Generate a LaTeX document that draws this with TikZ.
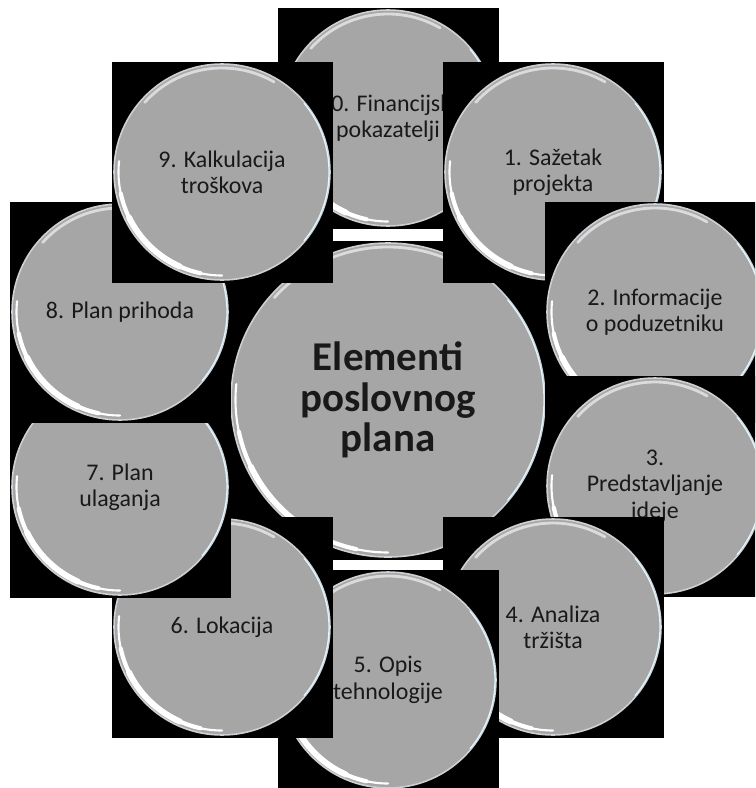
\documentclass[tikz,border=0pt]{standalone}
\usepackage{fontspec}
\setmainfont{Carlito}
\definecolor{ballgray}{RGB}{166,166,166}
\definecolor{rimgray}{RGB}{205,209,213}
\newcommand\ballfont{\fontsize{13.6}{15}\selectfont}
\newcommand\titlefont{\fontsize{23.3}{23}\selectfont\bfseries}

\begin{document}
\begin{tikzpicture}[x=0.02cm,y=-0.02cm,
  tile/.style={fill=black},
  ball/.style={fill=ballgray,draw=rimgray,line width=0.9pt},
  shine/.style={draw=white,line cap=round},
  lbl/.style={align=center,inner sep=0pt,text=black!90}]

\useasboundingbox (0,0) rectangle (755,788);
\clip (0,0) rectangle (755,788);

% the centre first, then 10 and 1..9, each one over the one before
\foreach \x/\y/\r/\n/\f/\t in {
  388/400/157/centre/\titlefont/{Elementi\\poslovnog\\plana},
  388/118/108/e10/\ballfont/{10. Financijski\\pokazatelji},
  553/172/108/e1/\ballfont/{1. Sažetak\\projekta},
  655/312/108/e2/\ballfont/{2. Informacije\\o poduzetniku},
  655/486/108/e3/\ballfont/{3.\\Predstavljanje\\ideje},
  553/627/108/e4/\ballfont/{4. Analiza\\tržišta},
  388/680/108/e5/\ballfont/{5. Opis\\tehnologije},
  222/627/108/e6/\ballfont/{6. Lokacija},
  120/487/108/e7/\ballfont/{7. Plan\\ulaganja},
  120/312/108/e8/\ballfont/{8. Plan prihoda},
  222/172/108/e9/\ballfont/{9. Kalkulacija\\troškova}}
{
  % black square behind the ball
  \fill[tile] (\x-\r-2.5,\y-\r-2.5) rectangle (\x+\r+2.5,\y+\r+2.5);
  \draw[ball] (\x,\y) circle (\r);
  % gloss: crescent lower left, soft arc on top
  \draw[shine,line width=1.2pt] (\x,\y) ++(90:\r-4.5) arc[start angle=90,end angle=186,radius=\r-4.5];
  \draw[shine,line width=2.4pt] (\x,\y) ++(102:\r-4.5) arc[start angle=102,end angle=168,radius=\r-4.5];
  \draw[shine,line width=3.4pt] (\x,\y) ++(114:\r-4.5) arc[start angle=114,end angle=154,radius=\r-4.5];
  \draw[shine,opacity=0.6,line width=1.6pt] (\x,\y) ++(222:\r-4) arc[start angle=222,end angle=300,radius=\r-4];
  \draw[draw=cyan!12!white,line width=0.7pt] (\x,\y) ++(-40:\r-1) arc[start angle=-40,end angle=40,radius=\r-1];
  \node[lbl,font=\f] (\n) at (\x,\y) {\t};
}
\end{tikzpicture}
\end{document}
